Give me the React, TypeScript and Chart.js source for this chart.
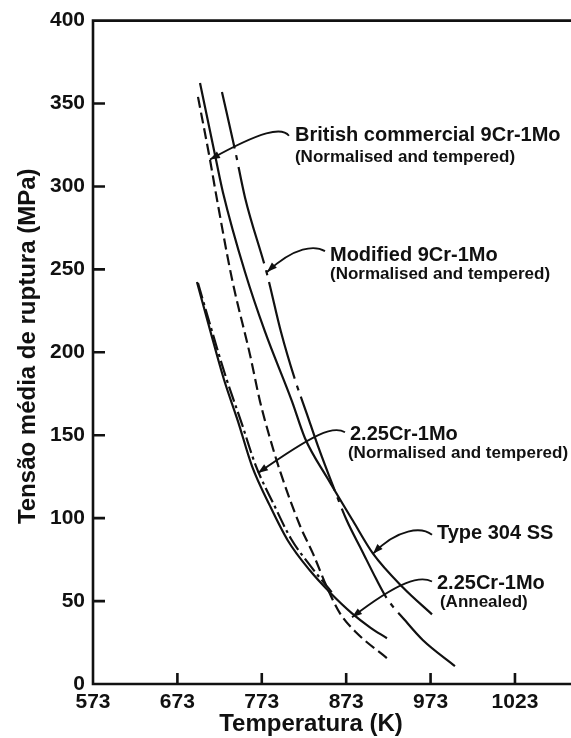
import React, { useEffect, useRef } from 'react';
import { Chart, registerables } from 'chart.js';

Chart.register(...registerables);

// ---------- data ----------
const xTickValues = [573, 673, 773, 873, 973, 1073];
const xTickLabels = ['573', '673', '773', '873', '973', '1023'];
const yTickValues = [0, 50, 100, 150, 200, 250, 300, 350, 400];

// British commercial 9Cr-1Mo (normalised and tempered) - dashed
const britishT = [697.4, 711.6, 719.9, 737.7, 759, 770.9, 782.7, 794.6, 818.3, 833.7, 850.3, 865.7, 885.8, 921.3];
const britishS = [354, 316.2, 292.2, 244.2, 198.6, 170.4, 148.2, 128.4, 95.4, 78.6, 58.2, 42.6, 30.6, 15.6];

// Type 304 SS - solid
const ss304T = [699.8, 718.7, 727, 753.1, 776.8, 808.8, 824.2, 851.4, 881, 904.8, 940.3, 974.7];
const ss304S = [362.4, 316.2, 296.4, 248.4, 212.4, 170.4, 148.2, 123.6, 98.4, 78.6, 58.2, 42];

// Modified 9Cr-1Mo (normalised and tempered) - dash-dot
const modT = [725.8, 741.2, 753.1, 779.2, 795.7, 812.3, 826.6, 839.6, 857.4, 873.9, 891.7, 908.3, 921.3, 942.7, 964, 1001.9];
const modS = [357, 322.2, 293.4, 247.2, 212.4, 183.6, 162.6, 143.4, 119.4, 98.4, 80.4, 63.6, 51.6, 38.4, 26.4, 10.8];

// 2.25Cr-1Mo (normalised and tempered) - dash-dot
const ntT = [697.4, 712.8, 730.6, 748.4, 766.1, 787.5, 807.6, 831.3, 856.2];
const ntS = [241.8, 214.8, 184.8, 158.4, 131.4, 108, 87.6, 70.8, 55.2];

// 2.25Cr-1Mo (annealed) - solid
const annT = [696.2, 711.6, 728.2, 744.8, 761.4, 782.7, 804, 830.1, 853.8, 879.9, 901.2, 921.3];
const annS = [242.4, 213.6, 183.6, 158.4, 131.4, 107.4, 86.4, 68.4, 55.2, 42.6, 34.2, 27.6];

// annotations (anchored in data units)
const noteTexts = [
  'British commercial 9Cr-1Mo',
  '(Normalised and tempered)',
  'Modified 9Cr-1Mo',
  '(Normalised and tempered)',
  '2.25Cr-1Mo',
  '(Normalised and tempered)',
  'Type 304 SS',
  '2.25Cr-1Mo',
  '(Annealed)',
];
const noteT = [812.3, 812.3, 853.8, 853.8, 877.5, 875.1, 980.6, 980.6, 984.1];
const noteS = [330.6, 317.4, 258.6, 247.2, 150.6, 139.2, 90.6, 60.6, 49.2];
const noteSize = [20, 17, 20, 17, 20, 17, 20, 20, 17];

// arrow bezier control points: start, c1, c2, tip
const arrowT = [
  [805.2, 796.9, 773.2, 711.6],
  [847.9, 836, 812.3, 779.2],
  [871.6, 857.4, 836, 768.5],
  [974.7, 962.8, 934.4, 904.8],
  [974.7, 960.4, 936.7, 879.9],
];
const arrowS = [
  [330.6, 336, 333.6, 316.2],
  [261, 264.6, 264, 248.4],
  [151.8, 156, 151.2, 127.2],
  [90, 94.8, 94.2, 78.6],
  [61.8, 65.4, 62.4, 40.2],
];

const xTitle = 'Temperatura (K)';
const yTitle = 'Tensão média de ruptura (MPa)';

const FONT = '"Liberation Sans", Arial, Helvetica, sans-serif';
const INK = '#111111';

const zip = (xs: number[], ys: number[]) => xs.map((x, i) => ({ x, y: ys[i] }));

const overlayPlugin = {
  id: 'overlay',
  afterDraw(chart: any) {
    const { ctx, chartArea: a, scales } = chart;
    const xs = scales.x;
    const ys = scales.y;
    ctx.save();
    ctx.strokeStyle = INK;
    ctx.fillStyle = INK;
    ctx.lineWidth = 2.6;
    ctx.lineCap = 'butt';
    ctx.setLineDash([]);
    // frame: top, left, bottom
    ctx.beginPath();
    ctx.moveTo(chart.width, a.top);
    ctx.lineTo(a.left, a.top);
    ctx.lineTo(a.left, a.bottom);
    ctx.lineTo(chart.width, a.bottom);
    ctx.stroke();
    // inward tick marks
    ctx.beginPath();
    for (const v of yTickValues) {
      if (v === yTickValues[0] || v === yTickValues[yTickValues.length - 1]) continue;
      const py = ys.getPixelForValue(v);
      ctx.moveTo(a.left, py);
      ctx.lineTo(a.left + 12, py);
    }
    for (const v of xTickValues) {
      if (v === xTickValues[0]) continue;
      const px = xs.getPixelForValue(v);
      ctx.moveTo(px, a.bottom);
      ctx.lineTo(px, a.bottom - 11);
    }
    ctx.stroke();

    // annotation texts
    ctx.textAlign = 'left';
    ctx.textBaseline = 'middle';
    noteTexts.forEach((t, i) => {
      ctx.font = `bold ${noteSize[i]}px ${FONT}`;
      ctx.fillText(t, xs.getPixelForValue(noteT[i]), ys.getPixelForValue(noteS[i]));
    });

    // arrows
    ctx.lineWidth = 1.8;
    arrowT.forEach((row, i) => {
      const p = row.map((tv, j) => ({ x: xs.getPixelForValue(tv), y: ys.getPixelForValue(arrowS[i][j]) }));
      ctx.beginPath();
      ctx.moveTo(p[0].x, p[0].y);
      ctx.bezierCurveTo(p[1].x, p[1].y, p[2].x, p[2].y, p[3].x, p[3].y);
      ctx.stroke();
      const ang = Math.atan2(p[3].y - p[2].y, p[3].x - p[2].x);
      const L = 10;
      const W = 3.6;
      const bx = p[3].x - L * Math.cos(ang);
      const by = p[3].y - L * Math.sin(ang);
      ctx.beginPath();
      ctx.moveTo(p[3].x, p[3].y);
      ctx.lineTo(bx + W * Math.sin(ang), by - W * Math.cos(ang));
      ctx.lineTo(bx - W * Math.sin(ang), by + W * Math.cos(ang));
      ctx.closePath();
      ctx.fill();
    });

    // axis titles
    ctx.font = `bold 24px ${FONT}`;
    ctx.textAlign = 'center';
    ctx.textBaseline = 'middle';
    ctx.fillText(xTitle, a.left + 218, a.bottom + 40);
    ctx.save();
    ctx.translate(28, (a.top + a.bottom) / 2 - 6);
    ctx.rotate(-Math.PI / 2);
    ctx.fillText(yTitle, 0, 0);
    ctx.restore();
    ctx.restore();
  },
};

export default function App() {
  const ref = useRef<HTMLCanvasElement | null>(null);
  useEffect(() => {
    if (!ref.current) return;
    const base = { borderColor: INK, borderWidth: 2.2, pointRadius: 0, fill: false, cubicInterpolationMode: 'monotone' as const };
    const chart = new Chart(ref.current, {
      type: 'line',
      data: {
        datasets: [
          { ...base, label: 'British commercial 9Cr-1Mo', data: zip(britishT, britishS), borderDash: [11, 5] },
          { ...base, label: 'Type 304 SS', data: zip(ss304T, ss304S) },
          { ...base, label: 'Modified 9Cr-1Mo', data: zip(modT, modS), borderDash: [100, 7, 5, 7], borderDashOffset: 42 },
          { ...base, label: '2.25Cr-1Mo (N&T)', data: zip(ntT, ntS), borderDash: [16, 4, 3, 4] },
          { ...base, label: '2.25Cr-1Mo (Annealed)', data: zip(annT, annS) },
        ],
      },
      options: {
        animation: false,
        responsive: false,
        devicePixelRatio: 1,
        layout: { padding: { top: 17.6, left: 0, right: 0, bottom: 0 } },
        plugins: { legend: { display: false }, tooltip: { enabled: false } },
        scales: {
          x: {
            type: 'linear',
            min: 573,
            max: 1139.4,
            grid: { display: false, drawTicks: false },
            border: { display: false },
            afterBuildTicks: (s: any) => {
              s.ticks = xTickValues.map((v) => ({ value: v }));
            },
            afterFit: (s: any) => {
              s.height = 54;
            },
            ticks: {
              padding: 6,
              color: INK,
              font: { family: FONT, size: 21, weight: 'bold' },
              maxRotation: 0,
              autoSkip: false,
              callback: (v: any) => {
                const i = xTickValues.indexOf(Number(v));
                return i >= 0 ? xTickLabels[i] : '';
              },
            },
          },
          y: {
            type: 'linear',
            min: 0,
            max: 400,
            grid: { display: false, drawTicks: false },
            border: { display: false },
            afterBuildTicks: (s: any) => {
              s.ticks = yTickValues.map((v) => ({ value: v }));
            },
            afterFit: (s: any) => {
              s.width = 93;
            },
            ticks: {
              padding: 8,
              color: INK,
              font: { family: FONT, size: 21, weight: 'bold' },
              autoSkip: false,
            },
          },
        },
      },
      plugins: [overlayPlugin],
    });
    return () => chart.destroy();
  }, []);
  return (
    <div style={{ position: 'absolute', left: 0, top: 0, width: 571, height: 738, background: '#fff' }}>
      <canvas ref={ref} width={571} height={738} style={{ display: 'block' }} />
    </div>
  );
}
